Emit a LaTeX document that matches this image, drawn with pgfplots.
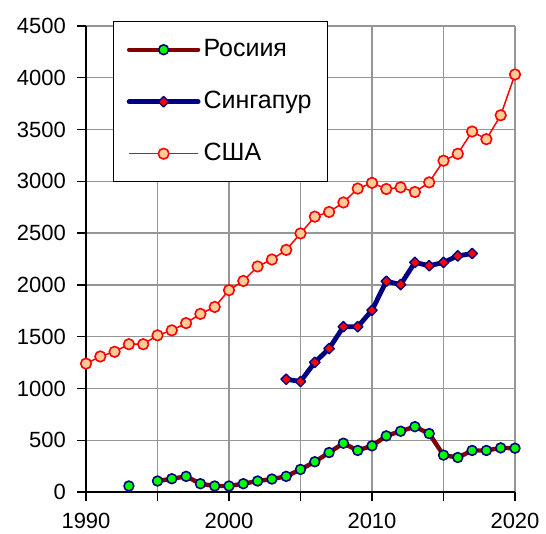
\documentclass[border=0pt]{standalone}
\usepackage{fontspec}
\setmainfont{Liberation Sans}
\usepackage{pgfplots}
\pgfplotsset{compat=1.18}
\definecolor{rusline}{HTML}{800000}
\definecolor{navyb}{HTML}{000080}
\definecolor{limeg}{HTML}{00FF00}
\definecolor{peach}{HTML}{FFCC99}
\definecolor{gridgray}{HTML}{969696}
\begin{document}
\begin{tikzpicture}
\begin{axis}[
  scale only axis, width=429pt, height=466pt,
  xmin=1990, xmax=2020, ymin=0, ymax=4500,
  xtick={1990,1995,...,2020}, xticklabels={1990,,2000,,2010,,2020},
  ytick={0,500,...,4500},
  grid=major, grid style={gridgray, line width=1.3pt},
  axis lines=left, axis line style={-, black, line width=1.4pt},
  tick align=outside, major tick length=8.7pt, tick style={black, line width=1.4pt},
  tick label style={font=\fontsize{22}{26}\selectfont},
  yticklabel style={xshift=-8pt},
  xticklabel style={yshift=-9pt},
  /pgf/number format/assume math mode=true,
  /pgf/number format/1000 sep={},
  clip=false, unbounded coords=jump,
  legend cell align=left,
  legend style={at={(0.063,1.0107)}, anchor=north west, draw=black, line width=1.4pt, fill=white,
    font=\fontsize{25}{30}\selectfont, inner xsep=13pt, inner ysep=14pt, row sep=24pt,
    nodes={text height=18pt, text depth=4pt, inner sep=3pt}},
  legend image code/.code={\draw[mark repeat=2,mark phase=2,#1] plot coordinates {(0pt,0pt) (34.5pt,0pt) (69pt,0pt)};},
]
\addplot[rusline, line width=4.4pt, line join=round, line cap=round, mark=*, mark size=4.9pt,
  mark options={fill=limeg, draw=navyb, line width=1.6pt}] coordinates {
(1993,58) (1994,nan) (1995,106) (1996,128) (1997,151) (1998,80) (1999,58) (2000,58)
(2001,80) (2002,106) (2003,125) (2004,151) (2005,218) (2006,292) (2007,381) (2008,471)
(2009,401) (2010,446) (2011,542) (2012,587) (2013,631) (2014,564) (2015,356) (2016,333)
(2017,401) (2018,401) (2019,426) (2020,423)};
\addlegendentry{Росиия}
\addplot[navyb, line width=4.8pt, line join=round, line cap=round, mark=square*, mark size=3.7pt,
  mark options={fill=red, draw=navyb, line width=1.4pt, rotate=45}] coordinates {
(2004,1089) (2005,1067) (2006,1252) (2007,1385) (2008,1596) (2009,1596) (2010,1755)
(2011,2035) (2012,2003) (2013,2217) (2014,2185) (2015,2217) (2016,2280) (2017,2303)};
\addlegendentry{Сингапур}
\addplot[red, line width=1.5pt, mark=*, mark size=5.3pt,
  mark options={fill=peach, draw=red, line width=1.6pt}] coordinates {
(1990,1240) (1991,1309) (1992,1354) (1993,1427) (1994,1427) (1995,1513) (1996,1561)
(1997,1631) (1998,1720) (1999,1787) (2000,1949) (2001,2038) (2002,2178) (2003,2245)
(2004,2338) (2005,2497) (2006,2659) (2007,2704) (2008,2796) (2009,2930) (2010,2985)
(2011,2926) (2012,2942) (2013,2897) (2014,2990) (2015,3199) (2016,3266) (2017,3481)
(2018,3407) (2019,3638) (2020,4032)};
\addlegendentry{США}
\end{axis}
\pgfresetboundingbox
\path ([shift={(-86pt,-41pt)}]current axis.south west) rectangle ++(546pt,533pt);
\end{tikzpicture}
\end{document}
